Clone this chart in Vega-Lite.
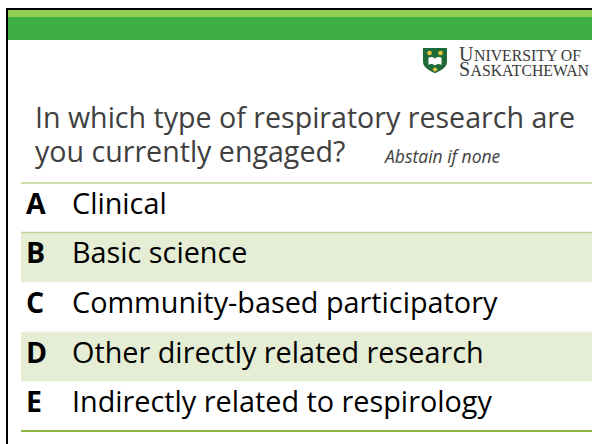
{
  "$schema": "https://vega.github.io/schema/vega-lite/v6.json",
  "width": 592,
  "height": 444,
  "autosize": {"type": "fit", "contains": "padding"},
  "padding": 0,
  "background": "white",
  "config": {"view": {"stroke": null}},
  "datasets": {
    "options": [
      {"letter": "A", "label": "Clinical", "shaded": false},
      {"letter": "B", "label": "Basic science", "shaded": true},
      {"letter": "C", "label": "Community-based participatory", "shaded": false},
      {"letter": "D", "label": "Other directly related research", "shaded": true},
      {"letter": "E", "label": "Indirectly related to respirology", "shaded": false}
    ],
    "slide": [
      {
        "question1": "In which type of respiratory research are",
        "question2": "you currently engaged?",
        "note": "Abstain if none",
        "line1Initial": "U",
        "line1Rest": "NIVERSITY OF",
        "line2Initial": "S",
        "line2Rest": "ASKATCHEWAN"
      }
    ]
  },
  "layer": [
    {
      "data": {"name": "slide"},
      "mark": {"type": "rect", "fill": "#92D050"},
      "encoding": {"x": {"value": 8}, "x2": {"value": 600}, "y": {"value": 10}, "y2": {"value": 17}}
    },
    {
      "data": {"name": "slide"},
      "mark": {"type": "rect", "fill": "#3EAE47"},
      "encoding": {"x": {"value": 8}, "x2": {"value": 600}, "y": {"value": 17}, "y2": {"value": 40}}
    },
    {
      "data": {"name": "slide"},
      "mark": {"type": "rule", "color": "#000000", "strokeWidth": 2},
      "encoding": {"x": {"value": 6}, "x2": {"value": 600}, "y": {"value": 9}}
    },
    {
      "data": {"name": "slide"},
      "mark": {"type": "rule", "color": "#000000", "strokeWidth": 2},
      "encoding": {"x": {"value": 7}, "y": {"value": 8}, "y2": {"value": 450}}
    },
    {
      "data": {"name": "options"},
      "transform": [{"filter": "datum.shaded"}],
      "mark": {"type": "rect", "fill": "#E5EDD5"},
      "encoding": {
        "y": {"field": "letter", "type": "nominal", "scale": {"domain": ["A", "B", "C", "D", "E"], "range": [183, 431], "paddingInner": 0, "paddingOuter": 0}, "axis": null},
        "x": {"value": 21},
        "x2": {"value": 600}
      }
    },
    {
      "data": {"name": "options"},
      "transform": [{"filter": "datum.letter == 'A' || datum.letter == 'B'"}],
      "mark": {"type": "rule", "color": "#BCD492", "strokeWidth": 1.5},
      "encoding": {
        "y": {"field": "letter", "type": "nominal", "bandPosition": 0, "axis": null},
        "x": {"value": 21},
        "x2": {"value": 600}
      }
    },
    {
      "data": {"name": "options"},
      "transform": [{"filter": "datum.letter == 'E'"}],
      "mark": {"type": "rule", "color": "#8DB849", "strokeWidth": 2},
      "encoding": {
        "y": {"field": "letter", "type": "nominal", "bandPosition": 1, "axis": null},
        "x": {"value": 21},
        "x2": {"value": 600}
      }
    },
    {
      "data": {"name": "options"},
      "mark": {"type": "text", "font": "Open Sans", "fontSize": 28.5, "fontWeight": "bold", "align": "left", "baseline": "alphabetic", "dy": 6, "color": "#000000"},
      "encoding": {
        "y": {"field": "letter", "type": "nominal", "axis": null},
        "x": {"value": 26},
        "text": {"field": "letter"}
      }
    },
    {
      "data": {"name": "options"},
      "mark": {"type": "text", "font": "Open Sans", "fontSize": 28.8, "align": "left", "baseline": "alphabetic", "dy": 6, "color": "#000000"},
      "encoding": {
        "y": {"field": "letter", "type": "nominal", "axis": null},
        "x": {"value": 72},
        "text": {"field": "label"}
      }
    },
    {
      "data": {"name": "slide"},
      "mark": {"type": "text", "font": "Open Sans", "fontSize": 28.6, "align": "left", "baseline": "alphabetic", "color": "#404040"},
      "encoding": {"x": {"value": 35}, "y": {"value": 128}, "text": {"field": "question1"}}
    },
    {
      "data": {"name": "slide"},
      "mark": {"type": "text", "font": "Open Sans", "fontSize": 28.6, "align": "left", "baseline": "alphabetic", "color": "#404040"},
      "encoding": {"x": {"value": 35}, "y": {"value": 162}, "text": {"field": "question2"}}
    },
    {
      "data": {"name": "slide"},
      "mark": {"type": "text", "font": "Open Sans", "fontSize": 17.5, "fontStyle": "italic", "align": "left", "baseline": "alphabetic", "color": "#404040"},
      "encoding": {"x": {"value": 385}, "y": {"value": 163}, "text": {"field": "note"}}
    },
    {
      "data": {"name": "slide"},
      "mark": {"type": "point", "shape": "M-1,-1 L1,-1 L1,0.15 C1,0.65 0.45,0.9 0,1.1 C-0.45,0.9 -1,0.65 -1,0.15 Z", "size": 576, "filled": true, "color": "#1F6B38", "opacity": 1},
      "encoding": {"x": {"value": 435}, "y": {"value": 60}}
    },
    {
      "data": {"name": "slide"},
      "mark": {"type": "point", "shape": "M-1,-0.5 Q-0.5,-0.8 0,-0.4 Q0.5,-0.8 1,-0.5 L1,0.6 Q0.5,0.3 0,0.7 Q-0.5,0.3 -1,0.6 Z", "size": 170, "filled": true, "color": "#FFFFFF", "opacity": 1},
      "encoding": {"x": {"value": 435}, "y": {"value": 61}}
    },
    {
      "data": {"name": "slide"},
      "mark": {"type": "point", "shape": "circle", "size": 22, "filled": true, "color": "#E3C341", "opacity": 1},
      "encoding": {"x": {"value": 429.5}, "y": {"value": 53}}
    },
    {
      "data": {"name": "slide"},
      "mark": {"type": "point", "shape": "circle", "size": 22, "filled": true, "color": "#E3C341", "opacity": 1},
      "encoding": {"x": {"value": 440.5}, "y": {"value": 53}}
    },
    {
      "data": {"name": "slide"},
      "mark": {"type": "point", "shape": "circle", "size": 18, "filled": true, "color": "#E3C341", "opacity": 1},
      "encoding": {"x": {"value": 435}, "y": {"value": 69.5}}
    },
    {
      "data": {"name": "slide"},
      "mark": {"type": "text", "font": "Liberation Serif", "fontSize": 20, "align": "left", "baseline": "alphabetic", "color": "#3A3A3A"},
      "encoding": {"x": {"value": 459}, "y": {"value": 61}, "text": {"field": "line1Initial"}}
    },
    {
      "data": {"name": "slide"},
      "mark": {"type": "text", "font": "Liberation Serif", "fontSize": 15.8, "align": "left", "baseline": "alphabetic", "color": "#3A3A3A"},
      "encoding": {"x": {"value": 474}, "y": {"value": 61}, "text": {"field": "line1Rest"}}
    },
    {
      "data": {"name": "slide"},
      "mark": {"type": "text", "font": "Liberation Serif", "fontSize": 20, "align": "left", "baseline": "alphabetic", "color": "#3A3A3A"},
      "encoding": {"x": {"value": 459}, "y": {"value": 76}, "text": {"field": "line2Initial"}}
    },
    {
      "data": {"name": "slide"},
      "mark": {"type": "text", "font": "Liberation Serif", "fontSize": 15.8, "align": "left", "baseline": "alphabetic", "color": "#3A3A3A"},
      "encoding": {"x": {"value": 470.5}, "y": {"value": 76}, "text": {"field": "line2Rest"}}
    }
  ]
}
